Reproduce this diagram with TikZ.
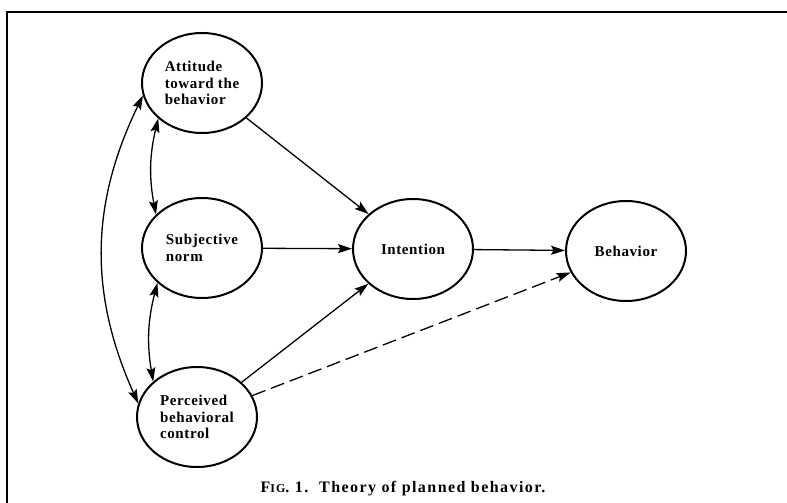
\documentclass[tikz,border=0pt]{standalone}
\usepackage{fontspec}
\setmainfont{Liberation Serif}
\newfontfamily\labelfont[LetterSpace=4]{Liberation Serif}
\newfontfamily\captionfont[LetterSpace=9]{Liberation Serif}
\usetikzlibrary{arrows.meta,shapes.geometric}
\begin{document}
\begin{tikzpicture}[x=1pt,y=-1pt,
  construct/.style={draw, ellipse, line width=2pt, minimum width=120pt,
    minimum height=100pt, inner sep=0pt, align=left,
    font=\labelfont\fontsize{15}{16.8}\selectfont\bfseries},
  tip/.tip={Stealth[length=14pt,width=9pt,inset=2.5pt]},
  link/.style={line width=1.3pt, -tip},
  twoway/.style={line width=1.3pt, tip-tip},
  frame/.style={line width=1.8pt}]
\useasboundingbox (0,0) rectangle (787,503);

% open frame: top and left rules
\draw[frame] (7,503) -- (7,12) -- (787,12);

% constructs
\node[construct] (att) at (202,83) {Attitude\\toward the\\behavior};
\node[construct] (sub) at (202,248) {Subjective\\norm};
\node[construct] (pbc) at (197,417) {Perceived\\behavioral\\control};
\node[construct] (int) at (413,249) {Intention};
\node[construct] (beh) at (626,251) {Behavior};

% direct paths
\draw[link] (att) -- (int);
\draw[link] (sub) -- (int);
\draw[link] (pbc) -- (int);
\draw[link] (int) -- (beh);
\draw[link, dash pattern=on 14pt off 6pt] (pbc) -- (beh);

% correlations among the antecedents
\draw[twoway] (att.219) to[bend right=12] (sub.144);
\draw[twoway] (sub.218) to[bend right=12] (pbc.141);
\draw[twoway] (att.192) to[bend right=25] (pbc.167);

% caption
\node[font=\captionfont\fontsize{16}{19}\selectfont\bfseries, anchor=base] (cap) at (403,492)
  {F{\fontsize{12}{14}\selectfont IG}. 1.\ \ Theory of planned behavior.};
\end{tikzpicture}
\end{document}
